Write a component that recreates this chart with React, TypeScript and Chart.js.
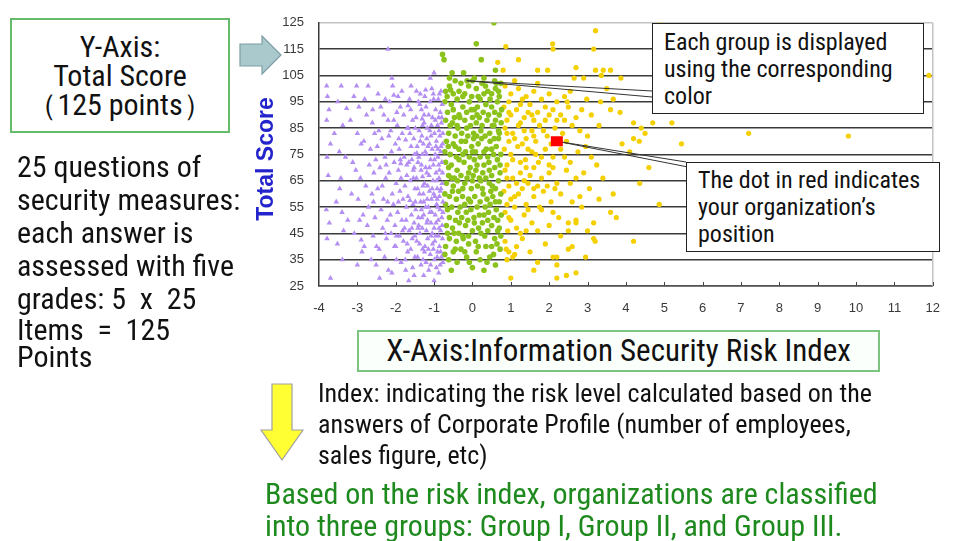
import React, { useEffect, useRef } from "react";
import { Chart, registerables } from "chart.js";

Chart.register(...registerables);

// ---------------- Axis settings ----------------
const X_MIN = -4;
const X_MAX = 12;
const Y_MIN = 25;
const Y_MAX = 125;
const Y_STEP = 10;

// ---------------- Data ----------------
// Group I (purple triangles)
const groupI: [number, number][] = [
  [-3.8, 101], [-3.78, 97], [-3.74, 92], [-3.8, 88], [-3.7, 79], [-3.79, 74], [-3.76, 67], [-3.81, 54], [-3.73, 49], [-3.79, 43], [-3.7, 28],
  [-3.42, 101], [-3.51, 95], [-3.28, 92.5], [-3.38, 86], [-3.47, 76], [-3.31, 74], [-3.43, 66], [-3.46, 62], [-3.4, 53], [-3.36, 46], [-3.52, 41], [-3.39, 35], [-3.18, 88], [-3.12, 72],
  [-3.02, 101], [-3.09, 97], [-2.96, 93], [-3.0, 83], [-3.04, 69], [-2.92, 66], [-2.98, 58], [-2.94, 50], [-3.08, 45], [-2.9, 42.5], [-3.0, 33], [-2.88, 38],
  [-2.81, 96], [-2.72, 101], [-2.76, 90], [-2.61, 87], [-2.83, 80], [-2.66, 77], [-2.69, 71], [-2.57, 68], [-2.78, 63], [-2.62, 60], [-2.71, 55], [-2.54, 51], [-2.74, 48], [-2.59, 44], [-2.82, 40], [-2.64, 35], [-2.51, 33],
  [-2.46, 98], [-2.39, 93], [-2.31, 90], [-2.44, 84], [-2.36, 81], [-2.48, 78], [-2.28, 74], [-2.41, 70], [-2.26, 66], [-2.47, 62], [-2.32, 58], [-2.38, 54], [-2.22, 50], [-2.34, 47], [-2.24, 43], [-2.43, 39], [-2.29, 36], [-2.19, 31], [-2.42, 28],
  [-2.2, 115], [-2.1, 104], [-1.1, 104], [-1.0, 106],
  [-2.16, 95], [-2.08, 101], [-2.05, 88], [-2.13, 84], [-2.01, 79], [-2.11, 76], [-2.04, 72], [-2.17, 68], [-1.99, 64], [-2.09, 60], [-2.06, 56], [-2.14, 52], [-2.02, 48], [-2.12, 45], [-2.03, 40], [-1.98, 35], [-2.1, 30],
  [-1.94, 97], [-1.88, 93], [-1.84, 99], [-1.79, 90], [-1.96, 86], [-1.83, 83], [-1.74, 80.5], [-1.91, 77], [-1.78, 74], [-1.71, 71], [-1.93, 69], [-1.86, 66], [-1.76, 63], [-1.89, 61], [-1.81, 58], [-1.72, 55], [-1.95, 53], [-1.84, 50], [-1.77, 47], [-1.9, 44], [-1.8, 42], [-1.69, 38], [-1.86, 34], [-1.74, 31], [-1.66, 27],
  [-1.64, 96], [-1.61, 92], [-1.56, 88], [-1.67, 85], [-1.53, 81], [-1.6, 78], [-1.51, 75], [-1.66, 72], [-1.54, 69], [-1.62, 65], [-1.5, 62], [-1.68, 59], [-1.55, 56], [-1.59, 52], [-1.52, 49], [-1.65, 46], [-1.57, 43], [-1.61, 39], [-1.5, 36], [-1.56, 32], [-1.6, 101],
  [-1.46, 99], [-1.41, 95], [-1.33, 92], [-1.47, 89], [-1.3, 86], [-1.39, 84], [-1.36, 80], [-1.44, 78], [-1.31, 75], [-1.42, 72], [-1.34, 69], [-1.46, 66], [-1.29, 63], [-1.38, 60], [-1.35, 57], [-1.48, 54], [-1.32, 51], [-1.4, 48], [-1.37, 45], [-1.45, 42], [-1.3, 39], [-1.43, 36], [-1.34, 33], [-1.27, 29],
  [-1.24, 97], [-1.21, 93], [-1.14, 90], [-1.26, 87], [-1.11, 84], [-1.19, 81], [-1.16, 78], [-1.23, 76], [-1.09, 73], [-1.22, 70], [-1.13, 67], [-1.25, 64], [-1.12, 61], [-1.18, 58], [-1.15, 55], [-1.27, 52], [-1.08, 49], [-1.2, 46], [-1.17, 43], [-1.24, 40], [-1.1, 37], [-1.21, 34], [-1.14, 31],
  [-1.06, 100], [-1.01, 96], [-0.96, 92], [-1.04, 89], [-0.91, 86], [-0.99, 83], [-0.94, 80], [-1.05, 77], [-0.9, 74], [-1.02, 71], [-0.95, 68], [-1.03, 65], [-0.92, 62], [-0.98, 59], [-0.93, 56], [-1.06, 53], [-0.89, 50], [-1.0, 47], [-0.96, 44], [-1.04, 41], [-0.91, 38], [-0.99, 35], [-0.94, 32], [-1.0, 27],
  [-0.86, 98], [-0.79, 94], [-0.84, 91], [-0.81, 87], [-0.85, 82], [-0.78, 79], [-0.83, 76], [-0.8, 72], [-0.86, 69], [-0.79, 64], [-0.84, 61], [-0.77, 57], [-0.85, 54], [-0.8, 51], [-0.83, 46], [-0.78, 43], [-0.86, 40], [-0.81, 36], [-0.84, 33],
  [-1.37, 94], [-1.26, 90], [-1.07, 86], [-0.88, 89], [-1.32, 82], [-1.12, 79], [-0.97, 75], [-1.4, 74], [-1.19, 68], [-0.87, 66], [-1.28, 60], [-1.05, 62], [-0.92, 58], [-1.33, 54], [-1.17, 50], [-0.97, 52], [-1.42, 47], [-1.08, 44], [-0.87, 47], [-1.25, 38], [-1.02, 39], [-0.88, 30], [-1.54, 66], [-1.7, 85], [-1.88, 73], [-2.2, 88], [-2.6, 92], [-2.35, 63], [-1.73, 50], [-2.0, 40],
  [-2.05, 97.5], [-1.97, 91], [-1.92, 81], [-1.87, 71.5], [-1.93, 57], [-1.82, 46], [-1.98, 44], [-1.75, 35], [-1.68, 93.5], [-1.63, 83], [-1.58, 73], [-1.71, 67], [-1.63, 57.5], [-1.58, 47], [-1.7, 41], [-1.52, 29],
  [-1.49, 85], [-1.45, 75.5], [-1.52, 70], [-1.43, 62], [-1.49, 57], [-1.41, 51], [-1.5, 44], [-1.38, 41], [-1.36, 98], [-1.31, 88.5], [-1.28, 79], [-1.33, 71], [-1.3, 66.5], [-1.27, 57], [-1.31, 47], [-1.29, 35],
  [-1.22, 99.5], [-1.18, 85], [-1.2, 75], [-1.17, 63], [-1.22, 55], [-1.19, 49], [-1.15, 39], [-1.1, 95], [-1.08, 82], [-1.12, 70], [-1.07, 58], [-1.11, 53], [-1.05, 45], [-1.09, 33],
  [-1.02, 98], [-0.97, 88], [-0.95, 78], [-0.99, 73], [-0.93, 65], [-1.01, 60], [-0.95, 49], [-0.98, 42], [-0.92, 36], [-0.89, 96], [-0.87, 84], [-0.9, 77], [-0.88, 71], [-0.86, 59], [-0.91, 55], [-0.88, 44],
  [-0.82, 99], [-0.8, 89], [-0.77, 83], [-0.82, 78], [-0.78, 68], [-0.82, 62], [-0.77, 53], [-0.79, 48], [-0.83, 38], [-0.77, 34],
  [-2.27, 96], [-2.18, 82], [-2.25, 71], [-2.21, 57], [-2.27, 45], [-2.55, 83], [-2.52, 73], [-2.58, 57], [-2.5, 40], [-2.9, 79], [-2.85, 52], [-3.15, 60], [-3.25, 50], [-3.6, 83], [-3.55, 57],
];

// Group II (green dots)
const groupII: [number, number][] = [
  [-0.6, 101], [-0.45, 103], [-0.3, 102], [-0.1, 101], [0.1, 100], [0.25, 102], [0.4, 99], [0.6, 100], [-0.7, 99], [-0.2, 98], [0.0, 103], [0.5, 98], [0.7, 97], [-0.5, 98], [0.3, 98],
  [-0.72, 95], [-0.55, 94], [-0.4, 96], [-0.25, 93], [-0.08, 95], [0.05, 92], [0.2, 96], [0.35, 94], [0.5, 93], [0.65, 95], [0.76, 92], [-0.65, 91], [-0.35, 90], [-0.15, 91], [0.12, 90], [0.42, 90], [0.58, 91], [-0.5, 92], [0.28, 91], [0.7, 90], [-0.02, 97],
  [-0.7, 88], [-0.52, 87], [-0.38, 85], [-0.2, 88], [-0.05, 86], [0.1, 87], [0.22, 84], [0.38, 88], [0.52, 86], [0.68, 84], [-0.62, 83], [-0.45, 82], [-0.28, 83], [-0.12, 82], [0.03, 83], [0.18, 89], [0.33, 82], [0.6, 88], [0.75, 87], [0.45, 83], [-0.33, 89], [0.0, 89],
  [-0.68, 80], [-0.5, 79], [-0.35, 77], [-0.18, 80], [-0.02, 78], [0.15, 79], [0.3, 76], [0.46, 80], [0.62, 78], [0.74, 75], [-0.58, 75], [-0.42, 74], [-0.25, 75], [-0.08, 74], [0.08, 76], [0.24, 81], [0.4, 74], [0.55, 75], [-0.72, 76], [0.68, 81], [0.2, 74],
  [-0.7, 72], [-0.55, 71], [-0.4, 69], [-0.22, 72], [-0.06, 70], [0.12, 71], [0.27, 68], [0.43, 72], [0.58, 70], [0.72, 68], [-0.62, 67], [-0.47, 66], [-0.3, 67], [-0.14, 66], [0.02, 67], [0.18, 66], [0.35, 66], [0.5, 67], [0.65, 73], [-0.35, 73], [0.05, 73],
  [-0.68, 64], [-0.5, 63], [-0.36, 61], [-0.2, 64], [-0.03, 62], [0.13, 63], [0.28, 60], [0.44, 64], [0.6, 62], [0.74, 60], [-0.6, 59], [-0.42, 58], [-0.26, 59], [-0.1, 58], [0.06, 59], [0.22, 65], [0.38, 58], [0.53, 59], [0.68, 65], [-0.72, 60],
  [-0.7, 56], [-0.54, 55], [-0.38, 53], [-0.2, 56], [-0.04, 54], [0.12, 55], [0.3, 52], [0.46, 56], [0.62, 54], [0.75, 52], [-0.6, 51], [-0.44, 50], [-0.28, 51], [-0.12, 50], [0.04, 51], [0.2, 57], [0.4, 50], [0.56, 51], [0.7, 57],
  [-0.68, 48], [-0.52, 47], [-0.36, 45], [-0.18, 48], [0.0, 46], [0.16, 47], [0.32, 44], [0.5, 48], [0.66, 46], [-0.6, 43], [-0.42, 42], [-0.24, 43], [0.08, 42], [0.26, 49], [0.58, 43], [0.74, 44], [-0.1, 44],
  [-0.7, 40], [-0.5, 38], [-0.3, 39], [-0.1, 41], [0.1, 38], [0.35, 40], [0.55, 37], [0.72, 39], [-0.62, 35], [-0.4, 34], [-0.15, 36], [0.2, 35], [0.6, 33], [-0.55, 31], [0.0, 32], [0.45, 36], [-0.72, 37], [0.3, 31],
  [-0.66, 97], [-0.35, 99], [0.15, 97], [0.62, 102], [-0.58, 86], [-0.15, 85], [0.25, 86], [0.7, 83], [-0.45, 78], [0.03, 81], [0.5, 77], [-0.62, 70], [-0.1, 68], [0.3, 71], [0.72, 71], [-0.52, 61], [-0.0, 65], [0.48, 61], [-0.32, 55], [0.18, 52], [0.6, 57], [-0.48, 45], [0.4, 46], [0.05, 49], [-0.2, 38], [0.5, 40], [-0.65, 45], [0.66, 50], [0.36, 77], [-0.25, 62],
  [-0.57, 99.5], [-0.14, 103], [0.34, 101], [0.68, 99], [-0.47, 89], [-0.03, 92], [0.46, 96], [-0.63, 78], [-0.29, 80], [0.11, 82], [0.57, 81], [-0.39, 65], [0.09, 69], [0.52, 63], [-0.65, 54], [-0.16, 53], [0.33, 55], [-0.34, 49], [0.22, 45], [0.7, 47],
  [-0.45, 39], [0.15, 40], [-0.08, 34], [0.38, 34], [-0.25, 44], [0.64, 41], [-0.55, 66], [0.26, 62], [-0.18, 76], [0.44, 69], [-0.4, 86], [0.13, 93], [-0.6, 104], [0.3, 104], [0.74, 102], [-0.25, 97], [0.56, 86], [-0.05, 57], [0.42, 53], [0.0, 76],
  [-0.78, 113], [-0.74, 111], [-0.53, 106], [-0.23, 106], [0.1, 117], [0.23, 111], [0.56, 125], [0.6, 107], [0.58, 103], [0.05, 104],
];

// Group III (yellow dots)
const groupIII: [number, number][] = [
  [0.85, 101], [1.0, 98], [1.2, 100], [1.4, 97], [1.6, 99], [1.8, 96], [2.0, 98], [2.2, 95], [2.4, 97], [0.95, 95], [1.3, 96], [1.7, 102], [1.1, 103], [2.55, 99],
  [0.82, 93], [1.0, 90], [1.15, 92], [1.35, 89], [1.5, 94], [1.7, 91], [1.9, 88], [2.1, 92], [2.3, 90], [2.5, 93], [2.7, 89], [0.9, 88], [1.25, 87], [1.6, 88], [2.0, 90], [2.4, 88], [2.85, 92], [1.45, 91],
  [0.85, 85], [1.05, 83], [1.2, 86], [1.4, 81], [1.55, 84], [1.75, 86], [1.95, 82], [2.15, 85], [2.35, 83], [2.6, 86], [0.95, 80], [1.3, 79], [1.65, 80], [2.05, 79], [2.45, 80], [2.8, 84], [1.1, 81], [1.85, 84], [3.0, 82],
  [0.83, 77], [1.0, 75], [1.18, 78], [1.38, 73], [1.55, 76], [1.72, 72], [1.9, 77], [2.1, 74], [2.3, 77], [2.55, 72], [0.9, 71], [1.25, 72], [1.65, 75], [2.0, 71], [2.75, 76], [1.45, 77], [2.4, 74], [3.1, 74],
  [0.85, 69], [1.05, 66], [1.25, 68], [1.45, 64], [1.6, 70], [1.8, 66], [2.0, 68], [2.2, 64], [2.45, 69], [2.7, 66], [0.95, 63], [1.35, 65], [1.7, 63], [2.1, 70], [2.9, 68], [1.15, 64], [2.55, 64],
  [0.82, 61], [1.0, 58], [1.2, 60], [1.4, 56], [1.6, 59], [1.85, 61], [2.05, 57], [2.3, 60], [2.6, 57], [0.9, 56], [1.3, 62], [1.75, 55], [2.15, 62], [2.8, 59], [1.1, 55],
  [0.85, 53], [1.0, 50], [1.15, 47], [1.35, 52], [1.55, 49], [1.8, 54], [2.0, 48], [2.25, 51], [2.5, 46], [0.92, 46], [1.25, 45], [1.7, 46], [2.1, 53], [2.7, 50], [1.45, 54],
  [0.85, 42], [0.95, 38], [1.05, 36], [0.9, 35], [1.15, 40], [1.3, 43], [1.5, 38], [1.7, 34], [1.9, 41], [2.1, 36], [2.3, 44], [2.5, 39], [1.0, 28], [1.6, 31], [2.2, 33], [0.88, 39], [1.1, 37], [2.7, 30],
  [0.95, 91], [1.25, 94], [1.55, 90], [1.9, 93], [0.9, 83], [1.35, 84], [1.6, 82], [2.2, 88], [1.05, 73], [1.4, 70], [1.8, 74], [2.25, 80], [0.9, 66], [1.5, 67], [1.95, 63], [1.1, 59], [1.6, 62], [0.95, 51], [1.4, 46],
  [0.87, 116], [0.66, 110], [1.2, 111], [1.7, 107], [1.96, 107], [0.8, 107], [2.09, 117], [2.1, 115], [3.21, 122], [3.16, 115], [2.7, 108], [3.21, 107], [3.41, 107], [3.6, 107], [3.36, 105], [3.87, 104], [2.65, 104], [2.9, 104],
  [2.47, 95], [2.98, 96], [3.34, 95], [3.67, 96], [3.1, 90], [3.6, 92], [3.85, 91], [4.2, 87], [4.4, 85], [4.2, 81], [4.35, 80], [4.5, 83], [5.2, 87], [4.7, 87], [5.45, 79], [3.9, 79], [4.1, 76], [4.6, 70],
  [4.36, 64], [3.67, 60], [3.6, 53], [3.75, 51], [4.87, 56], [4.2, 42], [3.2, 42], [3.0, 46], [2.5, 49], [2.7, 49], [2.2, 28], [2.45, 29], [2.2, 36], [3.24, 71], [3.16, 49], [3.16, 43], [4.9, 125], [7.2, 83], [9.8, 82], [11.5, 107], [11.9, 105],
  [3.3, 86], [3.5, 100], [2.95, 78], [3.4, 66], [2.85, 55], [3.05, 62], [3.3, 58], [2.6, 40], [2.95, 36],
];

// Your organization (red square)
const yourOrg: [number, number][] = [[2.2, 80]];

// Anchor of the "Each group" call-out, on the group's upper edge
const groupCalloutAnchor: [number, number] = [-0.15, 103];

// ---------------- Texts ----------------
const yAxisBoxLines = ["Y-Axis:", "Total Score", "\uFF08125 points\uFF09"];
const leftNoteLines = ["25 questions of", "security measures:", "each answer is", "assessed with five", "grades: 5  x  25", "Items  =  125", "Points"];
const leftNoteTops = [150, 183, 216, 249, 282, 313, 340];
const groupCalloutLines = ["Each group is displayed", "using the corresponding", "color"];
const redCalloutLines = ["The dot in red indicates", "your organization\u2019s", "position"];
const xAxisBoxText = "X-Axis:Information Security Risk Index";
const indexLines = ["Index: indicating the risk level calculated based on the", "answers of Corporate Profile (number of employees,", "sales figure, etc)"];
const groupLines = ["Based on the risk index, organizations are classified", "into three groups: Group I, Group II, and Group III."];

const NARROW = '"Liberation Sans Narrow", "Arial Narrow", "Roboto Condensed", Roboto, "Liberation Sans", sans-serif';

const GROUP_BOX = { left: 652, top: 23, right: 924, bottom: 114 };
const RED_BOX = { left: 686, top: 162, right: 940, bottom: 252 };

const overlayPlugin = {
  id: "overlay",
  afterDatasetsDraw(chart: any) {
    const { ctx, chartArea, scales } = chart;
    const xs = scales.x;
    const ys = scales.y;
    ctx.save();
    // right border
    ctx.strokeStyle = "#c4c4c4";
    ctx.lineWidth = 1.5;
    ctx.beginPath();
    ctx.moveTo(chartArea.right, chartArea.top);
    ctx.lineTo(chartArea.right, chartArea.bottom);
    ctx.stroke();
    // inner tick marks on x-axis
    ctx.strokeStyle = "#444";
    ctx.lineWidth = 1;
    for (let v = X_MIN + 1; v <= X_MAX; v++) {
      const px = Math.round(xs.getPixelForValue(v)) + 0.5;
      ctx.beginPath();
      ctx.moveTo(px, chartArea.bottom - 4);
      ctx.lineTo(px, chartArea.bottom);
      ctx.stroke();
    }
    // call-out for groups
    const ax = xs.getPixelForValue(groupCalloutAnchor[0]);
    const ay = ys.getPixelForValue(groupCalloutAnchor[1]);
    ctx.strokeStyle = "#333";
    ctx.lineWidth = 1;
    ctx.beginPath();
    ctx.moveTo(ax, ay);
    ctx.lineTo(GROUP_BOX.left, 91);
    ctx.moveTo(ax, ay);
    ctx.lineTo(GROUP_BOX.left, 97);
    ctx.stroke();
    // call-out for red dot
    const rx = xs.getPixelForValue(yourOrg[0][0]);
    const ry = ys.getPixelForValue(yourOrg[0][1]);
    ctx.beginPath();
    ctx.moveTo(rx, ry);
    ctx.lineTo(RED_BOX.left, RED_BOX.top);
    ctx.moveTo(rx, ry);
    ctx.lineTo(RED_BOX.left + 2, RED_BOX.top + 5);
    ctx.stroke();
    // red dot redrawn on top
    ctx.fillStyle = "#ff0000";
    ctx.fillRect(rx - 6, ry - 5, 12, 10);
    ctx.restore();
  },
};

function ScatterChart() {
  const ref = useRef<HTMLCanvasElement | null>(null);
  useEffect(() => {
    if (!ref.current) return;
    const toPts = (arr: [number, number][]) => arr.map(([x, y]) => ({ x, y }));
    const chart = new Chart(ref.current, {
      type: "scatter",
      data: {
        datasets: [
          { label: "Group I", data: toPts(groupI), pointStyle: "triangle", pointRadius: 3.2, backgroundColor: "#b48ef2", borderColor: "#b48ef2", borderWidth: 0 },
          { label: "Group II", data: toPts(groupII), pointStyle: "circle", pointRadius: 2.8, backgroundColor: "#8cc21c", borderColor: "#8cc21c", borderWidth: 0 },
          { label: "Group III", data: toPts(groupIII), pointStyle: "circle", pointRadius: 2.6, backgroundColor: "#f5d000", borderColor: "#f5d000", borderWidth: 0 },
          { label: "Your organization", data: toPts(yourOrg), pointStyle: "rect", pointRadius: 6, backgroundColor: "#ff0000", borderColor: "#ff0000", borderWidth: 0 },
        ],
      },
      options: {
        animation: false,
        responsive: false,
        devicePixelRatio: 1,
        events: [],
        layout: { padding: { left: 259, right: 8, top: 15, bottom: 215 } },
        plugins: { legend: { display: false }, tooltip: { enabled: false } },
        scales: {
          x: {
            type: "linear",
            min: X_MIN,
            max: X_MAX,
            afterFit: (s: any) => { s.height = 40; },
            ticks: { stepSize: 1, color: "#3a3a3a", font: { family: "Liberation Sans", size: 13 }, padding: 15 },
            grid: { drawOnChartArea: false, drawTicks: false },
            border: { display: true, color: "#555", width: 1.5 },
          },
          y: {
            type: "linear",
            min: Y_MIN,
            max: Y_MAX,
            afterFit: (s: any) => { s.width = 60; },
            ticks: { stepSize: Y_STEP, color: "#3a3a3a", font: { family: "Liberation Sans", size: 13 }, padding: 15 },
            grid: {
              drawTicks: false,
              color: (c: any) => (c.tick && c.tick.value === Y_MAX ? "#c4c4c4" : "#3a3a3a"),
              lineWidth: 1.5,
            },
            border: { display: true, color: "#3a3a3a", width: 1.5 },
          },
        },
      },
      plugins: [overlayPlugin],
    } as any);
    return () => chart.destroy();
  }, []);
  return <canvas ref={ref} width={955} height={541} style={{ position: "absolute", left: 0, top: 0, width: 955, height: 541 }} />;
}

const abs = (left: number, top: number, extra: React.CSSProperties = {}): React.CSSProperties => ({
  position: "absolute",
  left,
  top,
  whiteSpace: "nowrap",
  ...extra,
});

export default function App() {
  return (
    <div style={{ position: "fixed", left: 0, top: 0, width: 955, height: 541, background: "#fff", overflow: "hidden", fontFamily: NARROW, color: "#111" }}>
      <ScatterChart />
      {/* Y title */}
      <div style={abs(165, 145, { width: 200, height: 28, lineHeight: "28px", textAlign: "center", transform: "rotate(-90deg)", color: "#2424cc", fontWeight: "bold", fontSize: 23, fontFamily: '"Liberation Sans", Arial, sans-serif' })}>
        Total Score
      </div>
      {/* gray arrow */}
      <svg style={abs(238, 34)} width={46} height={42}>
        <polygon points="2,10 24,10 24,2 43,21 24,40 24,32 2,32" fill="#a9c9cd" stroke="#7d9ea3" strokeWidth={1.2} />
      </svg>
      {/* Y axis box */}
      <div style={abs(10, 18, { width: 220, height: 115, boxSizing: "border-box", border: "2px solid #66bb6a", background: "#fff", textAlign: "center", fontSize: 30, lineHeight: "29px", paddingTop: 12 })}>
        {yAxisBoxLines.map((l, i) => (
          <div key={i}>{l}</div>
        ))}
      </div>
      {/* left notes */}
      {leftNoteLines.map((l, i) => (
        <div key={i} style={abs(17, leftNoteTops[i], { fontSize: 30, lineHeight: "34px", whiteSpace: "pre" })}>
          {l}
        </div>
      ))}
      {/* group callout box */}
      <div style={abs(GROUP_BOX.left, GROUP_BOX.top, { width: GROUP_BOX.right - GROUP_BOX.left, height: GROUP_BOX.bottom - GROUP_BOX.top, boxSizing: "border-box", border: "1.5px solid #222", background: "#fff", padding: "5px 0 0 11px", fontSize: 24, lineHeight: "27px" })}>
        {groupCalloutLines.map((l, i) => (
          <div key={i}>{l}</div>
        ))}
      </div>
      {/* red callout box */}
      <div style={abs(RED_BOX.left, RED_BOX.top, { width: RED_BOX.right - RED_BOX.left, height: RED_BOX.bottom - RED_BOX.top, boxSizing: "border-box", border: "1.5px solid #222", background: "#fff", padding: "4px 0 0 11px", fontSize: 24, lineHeight: "27px" })}>
        {redCalloutLines.map((l, i) => (
          <div key={i}>{l}</div>
        ))}
      </div>
      {/* X axis box */}
      <div style={abs(357, 330, { width: 523, height: 42, boxSizing: "border-box", border: "2px solid #7cc47f", background: "#fbfffb", textAlign: "center", fontSize: 31, lineHeight: "38px" })}>
        {xAxisBoxText}
      </div>
      {/* yellow arrow */}
      <svg style={abs(258, 382)} width={48} height={82}>
        <polygon points="14,2 34,2 34,48 45,48 24,78 3,48 14,48" fill="#ffff33" stroke="#a0a0a0" strokeWidth={1.2} />
      </svg>
      {/* index text */}
      {indexLines.map((l, i) => (
        <div key={i} style={abs(318, 378 + i * 31, { fontSize: 26, lineHeight: "30px" })}>
          {l}
        </div>
      ))}
      {/* group text */}
      {groupLines.map((l, i) => (
        <div key={i} style={abs(265, 477 + i * 32, { fontSize: 30, lineHeight: "34px", color: "#1e8a1e" })}>
          {l}
        </div>
      ))}
    </div>
  );
}
